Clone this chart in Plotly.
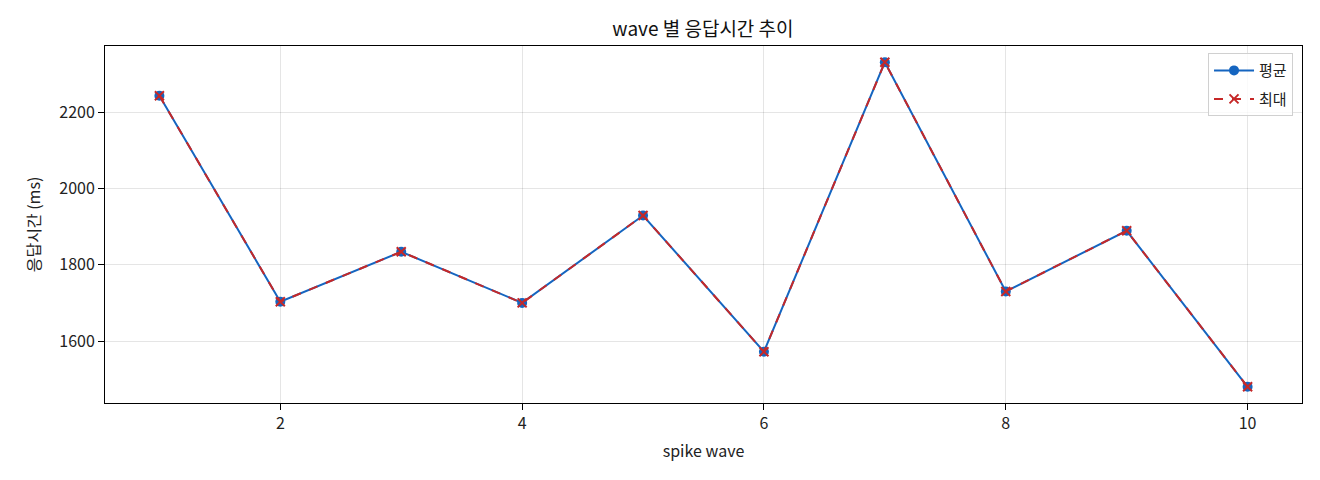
import plotly.graph_objects as go

waves = [1, 2, 3, 4, 5, 6, 7, 8, 9, 10]
avg_ms = [2243, 1703, 1834, 1700, 1929, 1572, 2331, 1730, 1889, 1480]
max_ms = [2243, 1703, 1834, 1700, 1929, 1572, 2331, 1730, 1889, 1480]

font = "Noto Sans CJK KR, Noto Sans, sans-serif"

fig = go.Figure()

fig.add_trace(
    go.Scatter(
        x=waves,
        y=avg_ms,
        mode='lines+markers',
        name='평균',
        legendgroup='avg',
        line=dict(color='#1565C0', width=2),
        marker=dict(symbol='circle', size=10, color='#1565C0'),
    )
)

fig.add_trace(
    go.Scatter(
        x=waves,
        y=max_ms,
        mode='lines+markers',
        name='최대',
        legendgroup='max',
        line=dict(color='#C62828', width=2, dash='dash'),
        marker=dict(symbol='x-thin', size=9, line=dict(color='#C62828', width=2)),
    )
)

axis_common = dict(
    showline=True,
    linecolor='black',
    linewidth=1,
    mirror=True,
    ticks='outside',
    ticklen=6,
    tickcolor='black',
    showgrid=True,
    gridcolor='rgba(0,0,0,0.1)',
    gridwidth=1,
    zeroline=False,
    tickfont=dict(size=16, color='#222', family=font),
)

# the page body has an 8px margin, so the figure sits 8px right/down
fig.update_layout(
    width=1320,
    height=480,
    paper_bgcolor='white',
    plot_bgcolor='white',
    font=dict(family=font, color='#222'),
    margin=dict(l=97, r=26, t=38, b=85),
    title=dict(
        text='wave 별 응답시간 추이',
        x=0.5265, xanchor='center',
        y=0.956, yanchor='middle',
        font=dict(size=19, family=font, color='#111'),
    ),
    xaxis=dict(
        axis_common,
        range=[0.55, 10.45],
        tickvals=[2, 4, 6, 8, 10],
        title=dict(text='spike wave', font=dict(size=16, family=font), standoff=12),
    ),
    yaxis=dict(
        axis_common,
        range=[1437.5, 2373.5],
        tickvals=[1600, 1800, 2000, 2200],
        title=dict(text='응답시간 (ms)', font=dict(size=16, family=font), standoff=14),
    ),
    legend=dict(
        x=0.9925, y=0.98, xanchor='right', yanchor='top',
        bgcolor='rgba(255,255,255,0.8)',
        bordercolor='#d0d0d0', borderwidth=1,
        font=dict(size=15, family=font),
        traceorder='grouped',
        tracegroupgap=6,
        itemwidth=40,
    ),
    showlegend=True,
)

fig.write_html("out.html")
